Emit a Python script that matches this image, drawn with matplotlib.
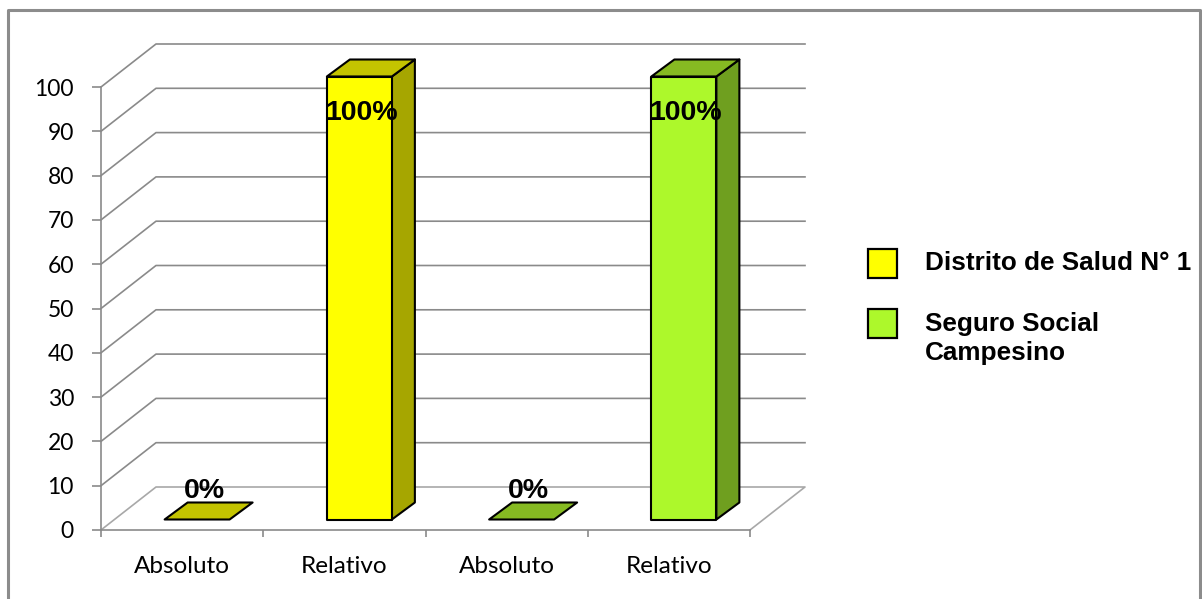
import matplotlib
matplotlib.use("Agg")
import matplotlib.pyplot as plt
from matplotlib.patches import Polygon, Rectangle

categories = ["Absoluto", "Relativo", "Absoluto", "Relativo"]
values = [0, 100, 0, 100]
labels = ["0%", "100%", "0%", "100%"]
series = ["Distrito de Salud N° 1", "Seguro Social\nCampesino"]
series_of_bar = [0, 0, 1, 1]
yticks = list(range(0, 101, 10))

# face colours per series: front, top, side
faces = [("#FFFF00", "#C4C400", "#A6A600"),
         ("#ADF82B", "#86BA22", "#6F9F1F")]
grid_c = "#8A8A8A"
floor_c = "#A8A8A8"

W, H = 1202, 599
fig = plt.figure(figsize=(W / 100, H / 100), dpi=100)

# overlay in pixel units for frame and legend
ov = fig.add_axes([0, 0, 1, 1])
ov.set_xlim(0, W)
ov.set_ylim(H, 0)
ov.axis("off")
ov.plot([8, 8, 1200, 1200], [H + 5, 10, 10, H + 5], color="#8C8C8C", lw=2.2, clip_on=False)

# plot area (front plane)
x0, x1, yb, yt = 101, 750, 530, 87
ax = fig.add_axes([x0 / W, (H - yb) / H, (x1 - x0) / W, (yb - yt) / H])
ax.set_xlim(0, 4)
ax.set_ylim(0, 100)
SX = 4 / (x1 - x0)
SY = 100 / (yb - yt)

# oblique depth of the back wall
DX, DY = 55 * SX, 43 * SY

for s in ["top", "right"]:
    ax.spines[s].set_visible(False)
for s in ["left", "bottom"]:
    ax.spines[s].set_color(grid_c)
    ax.spines[s].set_linewidth(1.2)

ax.set_yticks(yticks)
ax.set_xticks(range(5))
ax.set_xticklabels([])
ax.set_xticks([i + 0.5 for i in range(4)], minor=True)
ax.set_xticklabels(categories, minor=True)
for lab in ax.get_yticklabels():
    lab.set_fontfamily("Lato")
    lab.set_fontsize(16.5)
for lab in ax.get_xticklabels(minor=True):
    lab.set_fontfamily("Lato")
    lab.set_fontsize(17.5)
ax.tick_params(axis="y", length=6.5, width=1.2, color=grid_c, pad=13)
ax.tick_params(axis="x", which="major", length=5, width=1.2, color=grid_c)
ax.tick_params(axis="x", which="minor", length=0, pad=19)
ax.set_facecolor("none")

# gridlines: diagonal on the side wall, horizontal on the back wall
for v in yticks[1:]:
    ax.plot([0, DX, 4 + DX], [v, v + DY, v + DY], color=grid_c, lw=1.2,
            clip_on=False, zorder=1)
# floor
ax.plot([0, DX, 4 + DX, 4], [0, DY, DY, 0], color=floor_c, lw=1.2, clip_on=False, zorder=1)

# bars
bw = 65 * SX
ox, oy = 15 * SX, 10.5 * SY
dx, dy = 23 * SX, 17 * SY
for i, v in enumerate(values):
    front, top, side = faces[series_of_bar[i]]
    cx = i + 0.5 + ox
    l, r = cx - bw / 2, cx + bw / 2
    b, t = oy, oy + v
    kw = dict(edgecolor="black", lw=1.5, clip_on=False, zorder=3, joinstyle="round")
    if v > 0:
        ax.add_patch(Polygon([(r, b), (r + dx, b + dy), (r + dx, t + dy), (r, t)],
                             facecolor=side, **kw))
        ax.add_patch(Polygon([(l, t), (l + dx, t + dy), (r + dx, t + dy), (r, t)],
                             facecolor=top, **kw))
        ax.add_patch(Polygon([(l, b), (r, b), (r, t), (l, t)], facecolor=front, **kw))
        ax.text(cx + 2 * SX, t - 36 * SY, labels[i], ha="center", va="center",
                family="Liberation Sans", weight="bold", size=20.5, zorder=4)
    else:
        ax.add_patch(Polygon([(l, t), (l + dx, t + dy), (r + dx, t + dy), (r, t)],
                             facecolor=top, **kw))
        ax.text(cx + 7 * SX, t + dy - 1 * SY, labels[i], ha="center", va="bottom",
                family="Liberation Sans", weight="bold", size=20.5, zorder=4)

# legend
for k, name in enumerate(series):
    y = 249 + k * 60
    ov.add_patch(Rectangle((868, y), 29, 29, facecolor=faces[k][0],
                           edgecolor="black", lw=1.6))
    yc = y + 14.5 + (15 if "\n" in name else 0)
    ov.text(925, yc, name, ha="left", va="center",
            family="Liberation Sans", weight="bold", size=18.8, linespacing=1.3)

fig.savefig("out.png", dpi=100)
